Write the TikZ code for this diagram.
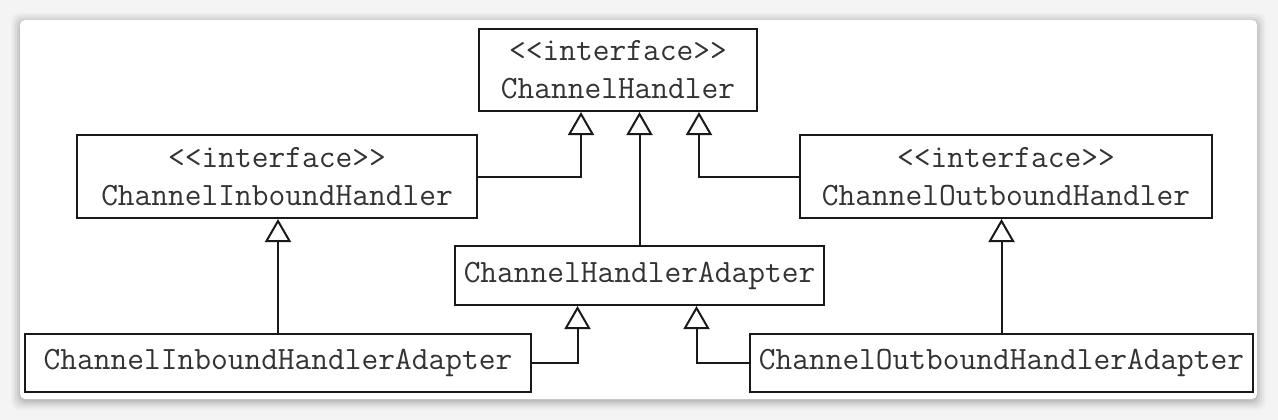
\documentclass[tikz,border=0pt]{standalone}
\usepackage{fontspec}
\usetikzlibrary{arrows.meta,positioning}
\definecolor{txtgray}{HTML}{333333}
\definecolor{pagegray}{HTML}{F4F4F4}

\begin{document}
\begin{tikzpicture}[
  x=1pt, y=-1pt,
  cls/.style={draw=black!90, line width=2pt, fill=white, text=txtgray,
              font=\fontsize{32.5}{38}\selectfont\ttfamily,
              align=center, inner sep=0pt},
  inh/.style={-{Triangle[open, width=26pt, length=23pt]},
              line width=2pt, draw=black!90}]

% Panel with soft shadow
\useasboundingbox (0,0) rectangle (1278,420);
\fill[pagegray] (0,0) rectangle (1278,420);
\foreach \s/\o in {9/0.025,7/0.035,5/0.045,3/0.06,1/0.07}
  \fill[black, opacity=\o, rounded corners=8pt]
    (20-\s,20-\s+2) rectangle (1257+\s,399+\s+2);
\fill[white, rounded corners=5pt] (20,20) rectangle (1257,399);

% Interfaces
\node[cls, minimum width=278pt, minimum height=82pt] (ch)  at (618,70)
  {<{}<interface>{}>\\ChannelHandler};
\node[cls, minimum width=400pt, minimum height=83pt] (in)  at (277,176.5)
  {<{}<interface>{}>\\ChannelInboundHandler};
\node[cls, minimum width=412pt, minimum height=83pt] (out) at (1006,176.5)
  {<{}<interface>{}>\\ChannelOutboundHandler};

% Adapters
\node[cls, minimum width=369pt, minimum height=59pt] (ad)   at (639.5,275.5)
  {ChannelHandlerAdapter};
\node[cls, minimum width=506pt, minimum height=58pt] (ina)  at (278,363)
  {ChannelInboundHandlerAdapter};
\node[cls, minimum width=503pt, minimum height=58pt] (outa) at (1001.5,363)
  {ChannelOutboundHandlerAdapter};

% Inheritance to ChannelHandler
\draw[inh] (in.east)  -| ([xshift=-37pt]ch.south);
\draw[inh] (ad.north) -- (ad.north |- ch.south);
\draw[inh] (out.west) -| ([xshift=81pt]ch.south);

% Adapters to their parents
\draw[inh] (ina.north)  -- (ina.north |- in.south);
\draw[inh] (outa.north) -- (outa.north |- out.south);
\draw[inh] (ina.east)   -| ([xshift=-62pt]ad.south);
\draw[inh] (outa.west)  -| ([xshift=57pt]ad.south);
\end{tikzpicture}
\end{document}
